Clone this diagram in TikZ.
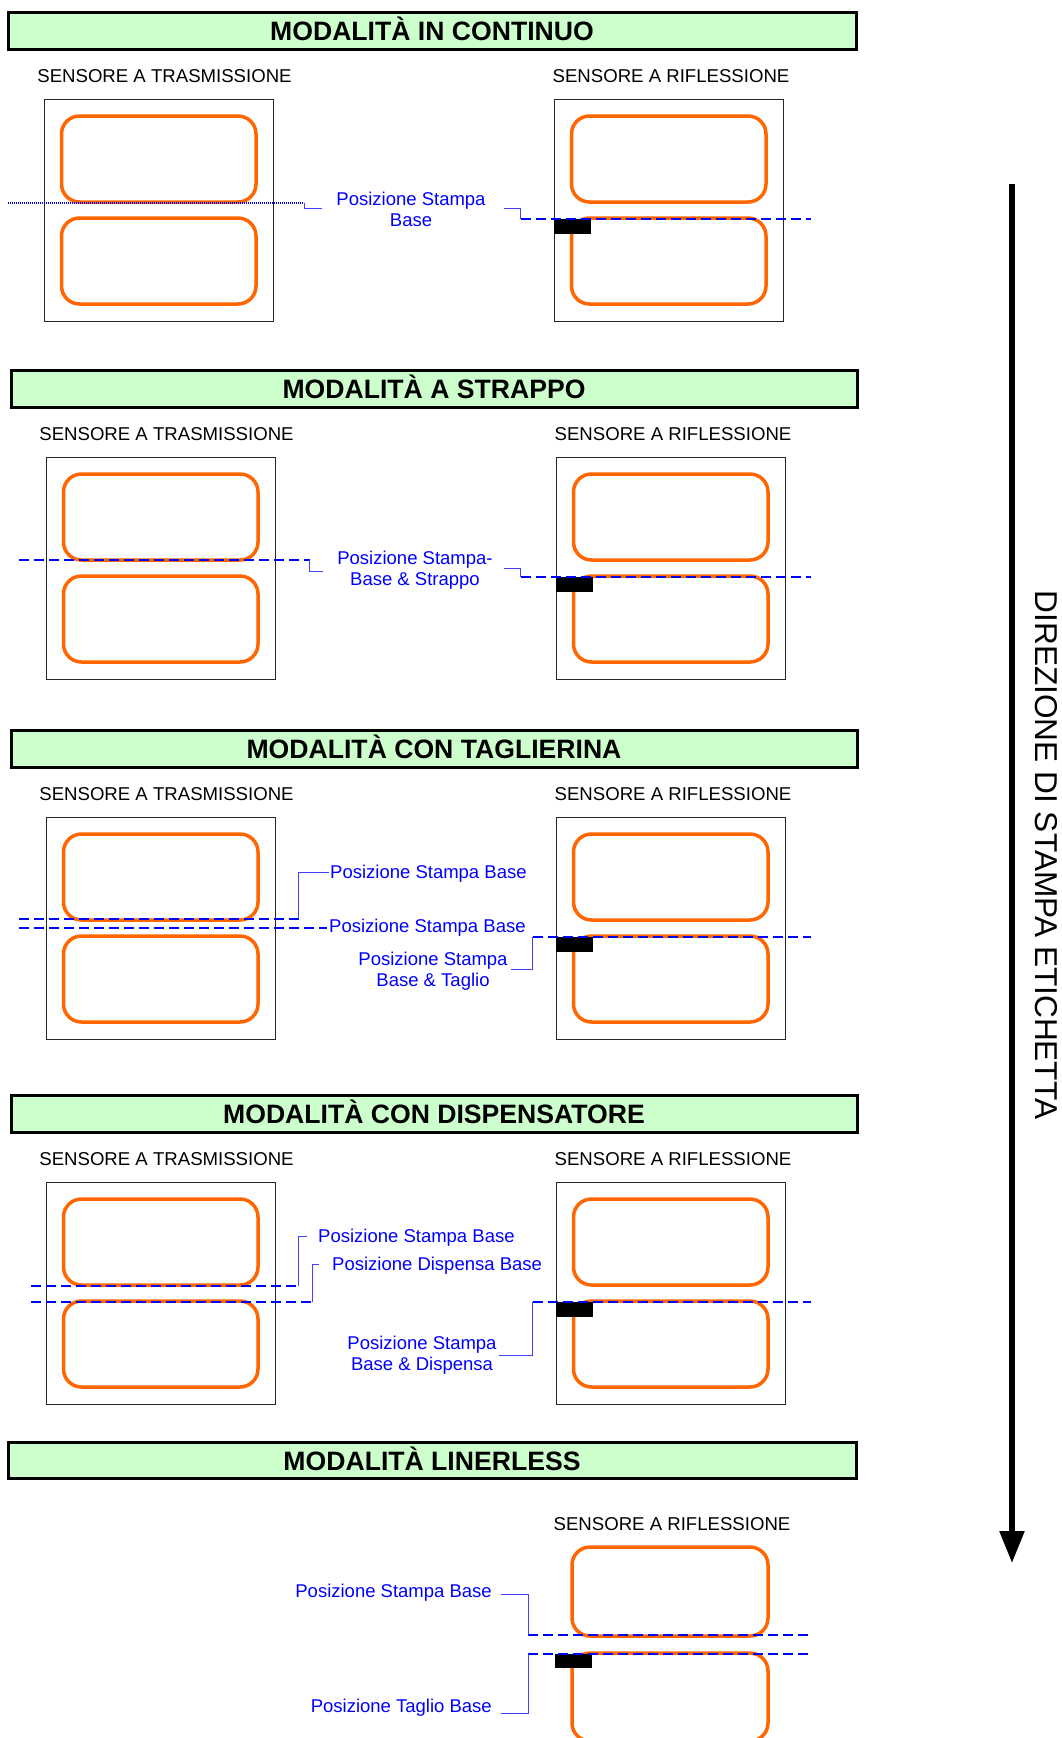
\documentclass[tikz,border=0pt]{standalone}
\usepackage{fontspec}
\setmainfont{Liberation Sans}
\usetikzlibrary{arrows.meta}
\definecolor{titlegreen}{HTML}{CCFFCC}
\definecolor{labelorange}{HTML}{FF6600}
\definecolor{leaderblue}{HTML}{4040FF}
\tikzset{
  titlebar/.style={draw=black, line width=3pt, fill=titlegreen},
  titletext/.style={font=\fontsize{26.6}{30}\selectfont\bfseries, anchor=base, inner sep=0pt},
  senstext/.style={font=\fontsize{18.6}{21}\selectfont, anchor=base, inner sep=0pt},
  bluetext/.style={font=\fontsize{18.5}{21}\selectfont, text=blue, inner sep=0pt, align=center},
  framebox/.style={draw=black!85, line width=1pt},
  labelrect/.style={draw=labelorange, line width=3.5pt, rounded corners=18pt},
  gapline/.style={draw=blue, line width=1.6pt, dash pattern=on 10pt off 5pt},
  dotline/.style={draw=blue, line width=1.6pt, dash pattern=on 1.2pt off 0.8pt},
  leader/.style={draw=leaderblue, line width=1pt},
  sensorbar/.style={fill=black},
}
\newcommand{\senspair}[1]{%
  \node[senstext] (#1ts) at (164.5,82.7) {SENSORE A TRASMISSIONE};
  \node[senstext] (#1rs) at (671,82.7) {SENSORE A RIFLESSIONE};
  \draw[framebox] (44,99) rectangle (273,321);
  \draw[labelrect] (61.5,116) rectangle (256,202);
  \draw[labelrect] (61.5,218) rectangle (256,304);
  \draw[framebox] (554.5,99) rectangle (783.5,321);
  \draw[labelrect] (571.5,116) rectangle (766,202);
  \draw[labelrect] (571.5,218) rectangle (766,304);
  \fill[sensorbar] (553.5,219) rectangle (591,234);
}
\begin{document}
\begin{tikzpicture}[x=1pt,y=-1pt]
\useasboundingbox (0,0) rectangle (1062,1738);
\fill[white] (0,0) rectangle (1062,1738);
\clip (0,0) rectangle (1062,1738);

% ---------- Section 1 ----------
\draw[titlebar] (8,12) rectangle (856,49);
\node[titletext] (t1) at (432,40.5) {MODALITÀ IN CONTINUO};
\senspair{a}
\draw[dotline] (8,203) -- (304,203);
\draw[leader] (304,203) -- (304,208) -- (321.5,208);
\node[bluetext] (a1) at (411,209.5) {Posizione Stampa\\Base};
\draw[leader] (504,208) -- (520.5,208) -- (520.5,219);
\draw[gapline] (520.5,219) -- (811,219);

% ---------- Section 2 ----------
\draw[titlebar] (11,370) rectangle (857,407);
\node[titletext] (t2) at (434,398.5) {MODALITÀ A STRAPPO};
\begin{scope}[shift={(2,358)}]
\senspair{b}
\end{scope}
\draw[gapline] (19,560) -- (309.5,560);
\draw[leader] (309.5,560) -- (309.5,571) -- (323,571);
\node[bluetext] (b1) at (415,570.4) {Posizione Stampa-\\Base \& Strappo};
\draw[leader] (504,568) -- (520.5,568) -- (520.5,577);
\draw[gapline] (520.5,577) -- (811,577);

% ---------- Section 3 ----------
\draw[titlebar] (11,730) rectangle (857,767);
\node[titletext] (t3) at (434,758.5) {MODALITÀ CON TAGLIERINA};
\begin{scope}[shift={(2,718)}]
\senspair{c}
\end{scope}
\draw[gapline] (19,919) -- (298.5,919);
\draw[leader] (298.5,919) -- (298.5,872) -- (329,872);
\node[bluetext, anchor=base west] (c1) at (330,878) {Posizione Stampa Base};
\draw[gapline] (19,928) -- (327,928);
\node[bluetext, anchor=base west] (c2) at (329,932.6) {Posizione Stampa Base};
\draw[gapline] (532.5,937) -- (811,937);
\draw[leader] (532.5,937) -- (532.5,969) -- (510.5,969);
\node[bluetext] (c3) at (433,971.4) {Posizione Stampa\\Base \& Taglio};

% ---------- Section 4 ----------
\draw[titlebar] (11,1095) rectangle (857,1132);
\node[titletext] (t4) at (434,1123.5) {MODALITÀ CON DISPENSATORE};
\begin{scope}[shift={(2,1083)}]
\senspair{d}
\end{scope}
\draw[gapline] (31,1286) -- (298.5,1286);
\draw[leader] (298.5,1286) -- (298.5,1236) -- (307,1236);
\node[bluetext, anchor=base west] (d1) at (318,1242) {Posizione Stampa Base};
\draw[gapline] (31,1302) -- (312,1302);
\draw[leader] (312,1302) -- (312,1264) -- (319,1264);
\node[bluetext, anchor=base west] (d2) at (332,1270.6) {Posizione Dispensa Base};
\draw[gapline] (532.5,1302) -- (811,1302);
\draw[leader] (532.5,1302) -- (532.5,1355) -- (498.5,1355);
\node[bluetext] (d3) at (422,1355.4) {Posizione Stampa\\Base \& Dispensa};

% ---------- Section 5 ----------
\draw[titlebar] (8,1442) rectangle (856,1478);
\node[titletext] (t5) at (432,1470.5) {MODALITÀ LINERLESS};
\node[senstext] (ers) at (672,1530) {SENSORE A RIFLESSIONE};
\draw[labelrect] (572,1547) rectangle (768,1636);
\draw[labelrect] (572,1653) rectangle (768,1741);
\fill[sensorbar] (554.5,1654) rectangle (592,1668);
\draw[gapline] (528,1635) -- (811,1635);
\draw[leader] (528,1635) -- (528,1594) -- (501,1594);
\node[bluetext, anchor=base east] (e1) at (492,1597) {Posizione Stampa Base};
\draw[gapline] (528,1654) -- (811,1654);
\draw[leader] (528,1654) -- (528,1713) -- (501,1713);
\node[bluetext, anchor=base east] (e2) at (492,1712) {Posizione Taglio Base};

% ---------- Direction arrow ----------
\coordinate (arrtop) at (1012,184);
\coordinate (arrtip) at (1012,1563);
\draw[line width=5.5pt, -{Triangle[width=24pt,length=32pt]}] (arrtop) -- (arrtip);
\node[font=\fontsize{31.6}{36}\selectfont, rotate=-90, inner sep=0pt] (dir) at (1046,855) {DIREZIONE DI STAMPA ETICHETTA};
\end{tikzpicture}
\end{document}
